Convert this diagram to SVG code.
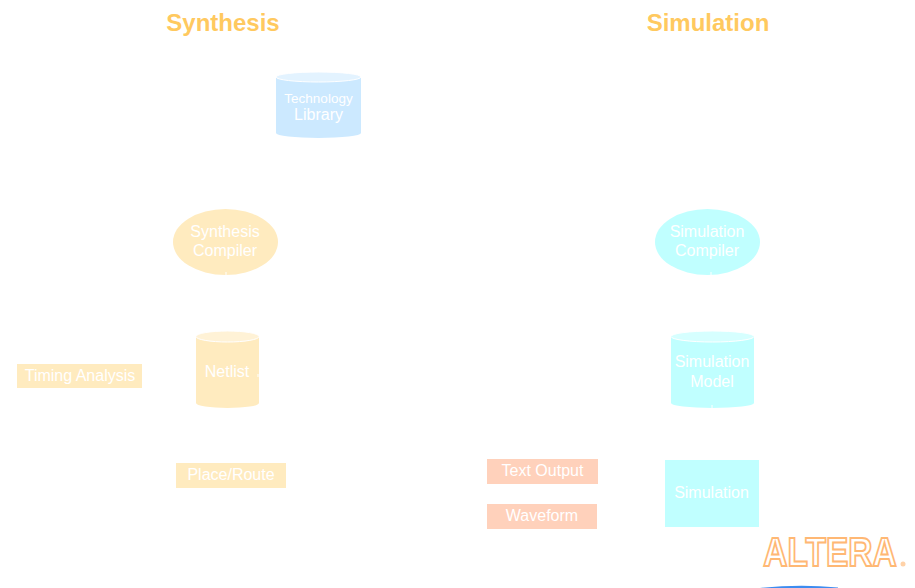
<svg xmlns="http://www.w3.org/2000/svg" width="915" height="588" viewBox="0 0 915 588">
<defs><style>
text{font-family:"Liberation Sans",Arial,sans-serif;text-anchor:middle;fill:#fff;font-size:16px}
.title{font-weight:bold;font-size:24px;fill:#ffc95f}
.y{fill:#ffebbf}.yt{fill:#fff2d6}
.b{fill:#cce9ff}.bt{fill:#e3f3ff}
.c{fill:#c0ffff}.ct{fill:#d6ffff}
.o{fill:#ffd1bb}
.rim{stroke:#fff;stroke-width:1}
.conn{stroke:#fff;stroke-width:1;fill:none}
</style></defs>
<rect width="915" height="588" fill="#fff"/>
<g id="title-synthesis"><text class="title" x="223" y="31">Synthesis</text></g>
<g id="title-simulation"><text class="title" x="708" y="31">Simulation</text></g>
<g id="technology-library">
<path class="b" d="M276 77V133A42.500 5 0 0 0 361 133V77Z"/>
<ellipse class="bt rim" cx="318.500" cy="77" rx="42.500" ry="5"/>
<text x="318.500" y="103" style="font-size:13.500px">Technology</text>
<text x="318.500" y="120">Library</text>
</g>
<g id="synthesis-compiler">
<ellipse class="y" cx="225.500" cy="242" rx="52.500" ry="33"/>
<text x="225" y="237">Synthesis</text>
<text x="225" y="256">Compiler</text>
</g>
<g id="netlist">
<path class="y" d="M196 336V403A31.500 5 0 0 0 259 403V336Z"/>
<ellipse class="yt rim" cx="227.500" cy="336.500" rx="31.500" ry="5.500"/>
<text x="227" y="377">Netlist</text>
</g>
<g id="timing-analysis">
<rect class="y" x="17" y="364" width="125" height="24"/>
<text x="80" y="381">Timing Analysis</text>
</g>
<g id="place-route">
<rect class="y" x="176" y="463" width="110" height="25"/>
<text x="231" y="480">Place/Route</text>
</g>
<g id="simulation-compiler">
<ellipse class="c" cx="707.500" cy="242" rx="52.500" ry="33"/>
<text x="707" y="237">Simulation</text>
<text x="707" y="256">Compiler</text>
</g>
<g id="simulation-model">
<path class="c" d="M671 336V403A41.500 5 0 0 0 754 403V336Z"/>
<ellipse class="ct rim" cx="712.500" cy="336.500" rx="41.500" ry="5.500"/>
<text x="712" y="367">Simulation</text>
<text x="712" y="387">Model</text>
</g>
<g id="simulation">
<rect class="c" x="665" y="460" width="94" height="67"/>
<text x="711.500" y="498">Simulation</text>
</g>
<g id="text-output">
<rect class="o" x="487" y="459" width="111" height="25"/>
<text x="542.500" y="476">Text Output</text>
</g>
<g id="waveform">
<rect class="o" x="487" y="504" width="110" height="25"/>
<text x="542" y="521">Waveform</text>
</g>
<g id="connectors">
<path class="conn" d="M226 272V275M258 374V377M712 405V408M711 272V275"/>
</g>
<g id="altera-logo">
<text transform="translate(830 566) scale(1 1.220)" style="font-size:33.500px;font-weight:bold;fill:#fff;stroke:#ffb874;stroke-width:1.700">ALTERA</text>
<circle cx="903" cy="564" r="2.500" fill="#ffd2a8"/>
</g>
<g id="blue-arc">
<path d="M760 588Q799 584 838 587.500V588Z" fill="#3d8cf0"/>
</g>
</svg>
